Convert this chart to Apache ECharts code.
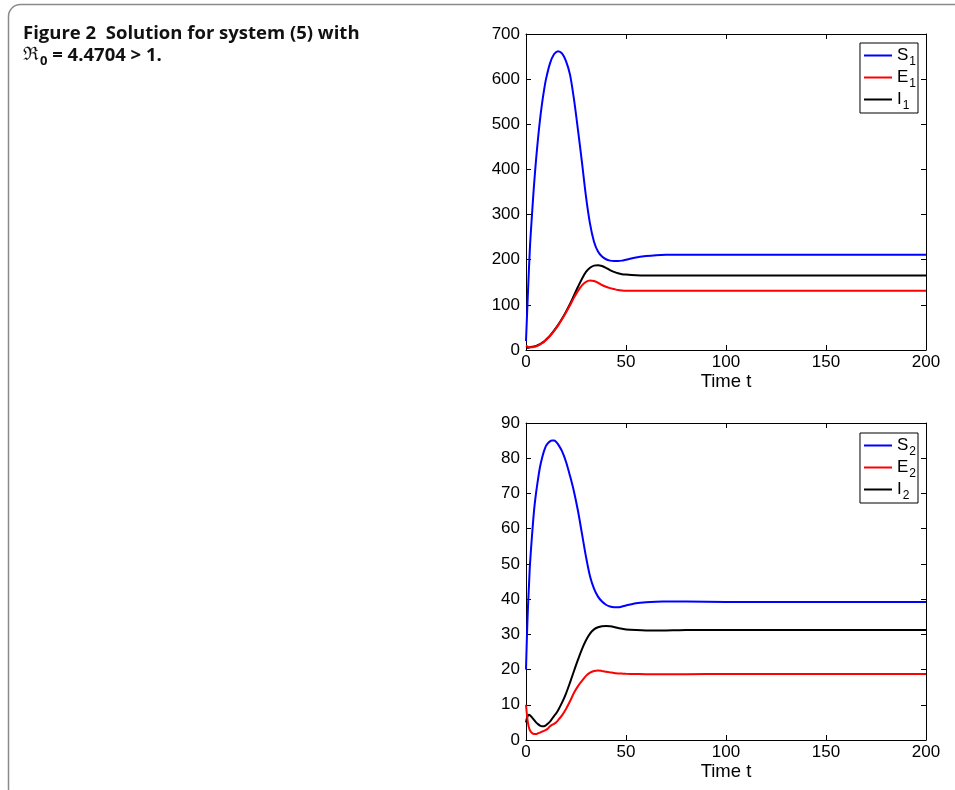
<!DOCTYPE html>
<html>
<head>
<meta charset="utf-8">
<script src="https://cdn.jsdelivr.net/npm/echarts@6/dist/echarts.min.js"></script>
<style>
html,body{margin:0;padding:0;background:#fff;}
#c{width:955px;height:790px;}
</style>
</head>
<body>
<div id="c"></div>
<script>
// ---- Data ----
const xTicks = [0, 50, 100, 150, 200];
const yTicksTop = [0, 100, 200, 300, 400, 500, 600, 700];
const yTicksBottom = [0, 10, 20, 30, 40, 50, 60, 70, 80, 90];

const t1 = [0,1,2,3,4,5,6,7,8,9,10,12,14,16,18,20,22,24,26,28,30,32,34,36,38,40,42,44,46,48,50,55,60,65,70,80,90,100,150,200];
const S1 = [20,130,230,300,365,420,468,510,545,575,600,635,655,662,657,640,610,555,487,415,340,280,240,218,207,201,198,197,197,198,200,205,208,210,211,211,211,211,211,211];
const E1 = [10,7,6,6,7,8,10,12,15,18,22,31,42,54,68,83,99,116,131,143,151,154,153,149,144,140,137,135,133,132,131.5,131,131,131,131,131,131,131,131,131];
const I1 = [5,5,6,7,8,9,11,13,16,19,23,32,43,55,69,85,102,121,140,158,173,182,187,188,186,182,177,173,170,168,167,165.5,165,165,165,165,165,165,165,165];

const t2 = [0,0.5,1,1.5,2,3,4,5,6,7,8,9,10,11,12,13,14,15,16,18,20,22,24,26,28,30,32,34,36,38,40,42,44,46,48,50,55,60,65,70,75,80,100,150,200];
const S2 = [20,30,38,44,50,58,65,70,74,77.5,80,82,83.5,84.3,84.8,85,85,84.7,84,82,79,75,70.5,65,58.5,52,46.5,43,40.7,39.3,38.4,37.9,37.7,37.7,37.9,38.2,38.8,39.1,39.25,39.3,39.35,39.3,39.2,39.2,39.2];
const E2 = [10,7,4.8,3.5,2.7,2,1.7,1.7,1.9,2.1,2.4,2.6,2.9,3.3,3.9,4.3,4.6,5,5.6,7,8.8,11,13.4,15.3,16.8,18.2,19.1,19.6,19.75,19.6,19.4,19.2,19,18.9,18.85,18.8,18.75,18.7,18.7,18.7,18.7,18.7,18.75,18.75,18.75];
const I2 = [5,6.3,7,7.2,7,6.4,5.7,5,4.5,4.1,3.9,3.9,4.2,4.7,5.2,6,6.8,7.5,8.4,10.6,13.2,16.3,19.6,22.8,25.8,28.3,30.2,31.4,32,32.3,32.4,32.3,32.1,31.8,31.6,31.4,31.2,31.1,31.1,31.1,31.15,31.2,31.2,31.2,31.2];

const namesTop = ['S1', 'E1', 'I1'];
const namesBottom = ['S2', 'E2', 'I2'];
const colors = ['#0000ff', '#ff0000', '#000000'];

// ---- Helpers ----
const zip = (t, v) => t.map((x, i) => [x, v[i]]);
const FONT = 'Liberation Sans';

function xAxisPair(gridIndex) {
  const base = {
    type: 'value', gridIndex, min: xTicks[0], max: xTicks[xTicks.length - 1], interval: 50,
    splitLine: { show: false },
    axisLine: { show: true, onZero: false, lineStyle: { color: '#000', width: 1 } },
    axisTick: { show: true, inside: true, length: 5, lineStyle: { color: '#000' } }
  };
  return [
    Object.assign({}, base, {
      position: 'bottom',
      axisLabel: { show: true, color: '#000', fontFamily: FONT, fontSize: 17, margin: 4 },
      name: 'Time t', nameLocation: 'middle', nameGap: 22,
      nameTextStyle: { color: '#000', fontFamily: FONT, fontSize: 18.5 }
    }),
    Object.assign({}, base, { position: 'top', axisLabel: { show: false } })
  ];
}
function yAxisPair(gridIndex, ticks) {
  const base = {
    type: 'value', gridIndex, min: ticks[0], max: ticks[ticks.length - 1], interval: ticks[1] - ticks[0],
    splitLine: { show: false },
    axisLine: { show: true, onZero: false, lineStyle: { color: '#000', width: 1 } },
    axisTick: { show: true, inside: true, length: 5, lineStyle: { color: '#000' } }
  };
  return [
    Object.assign({}, base, {
      position: 'left',
      axisLabel: { show: true, color: '#000', fontFamily: FONT, fontSize: 17, margin: 6 }
    }),
    Object.assign({}, base, { position: 'right', axisLabel: { show: false } })
  ];
}
function mkSeries(names, t, arrays, xi, yi) {
  return names.map((n, i) => ({
    name: n, type: 'line', xAxisIndex: xi, yAxisIndex: yi,
    data: zip(t, arrays[i]), symbol: 'none', showSymbol: false,
    smooth: 0.3,
    lineStyle: { color: colors[i], width: 2 }, itemStyle: { color: colors[i] },
    z: 3 - i
  }));
}
function mkLegend(names, top) {
  return {
    data: names, orient: 'vertical', right: 37, top: top,
    icon: 'rect', itemWidth: 28, itemHeight: 2, itemGap: -3,
    padding: [0, 2, 1, 4],
    borderColor: '#000', borderWidth: 1, backgroundColor: '#fff',
    selectedMode: false,
    formatter: n => '{m|' + n[0] + '}{s|' + n[1] + '}',
    textStyle: {
      color: '#000', fontFamily: FONT,
      rich: {
        m: { fontSize: 17, lineHeight: 18, verticalAlign: 'top', fontFamily: FONT, color: '#000' },
        s: { fontSize: 12, lineHeight: 12, padding: [13, 0, 0, 1], fontFamily: FONT, color: '#000' }
      }
    }
  };
}

const chart = echarts.init(document.getElementById('c'), null, { renderer: 'canvas' });
chart.setOption({
  animation: false,
  backgroundColor: '#fff',
  grid: [
    { left: 526, right: 29, top: 34, height: 316 },
    { left: 526, right: 29, top: 423, height: 317 }
  ],
  xAxis: [...xAxisPair(0), ...xAxisPair(1)],
  yAxis: [...yAxisPair(0, yTicksTop), ...yAxisPair(1, yTicksBottom)],
  legend: [mkLegend(namesTop, 43), mkLegend(namesBottom, 433)],
  series: [
    ...mkSeries(namesTop, t1, [S1, E1, I1], 0, 0),
    ...mkSeries(namesBottom, t2, [S2, E2, I2], 2, 2)
  ],
  graphic: [
    {
      type: 'rect', silent: true, z: -1,
      shape: { x: 8.5, y: 4.5, width: 1100, height: 796, r: 12 },
      style: { fill: 'none', stroke: '#8a8a8a', lineWidth: 1.5 }
    },
    {
      type: 'text', left: 23, top: 24,
      style: {
        text: 'Figure 2  Solution for system (5) with',
        font: 'bold 18.5px "Open Sans"', fill: '#111'
      }
    },
    {
      type: 'text', left: 23, top: 46,
      style: {
        text: '{r|ℜ}{sub|0}{t| = 4.4704 > 1.}',
        fill: '#111',
        rich: {
          r: { fontFamily: 'DejaVu Serif', fontSize: 18.5, lineHeight: 22, verticalAlign: 'top', fill: '#111' },
          sub: { fontFamily: 'Open Sans', fontWeight: 'bold', fontSize: 13, lineHeight: 14, padding: [8, 0, 0, 1], fill: '#111' },
          t: { fontFamily: 'Open Sans', fontWeight: 'bold', fontSize: 18.5, lineHeight: 22, verticalAlign: 'top', fill: '#111' }
        }
      }
    }
  ]
});
</script>
</body>
</html>
